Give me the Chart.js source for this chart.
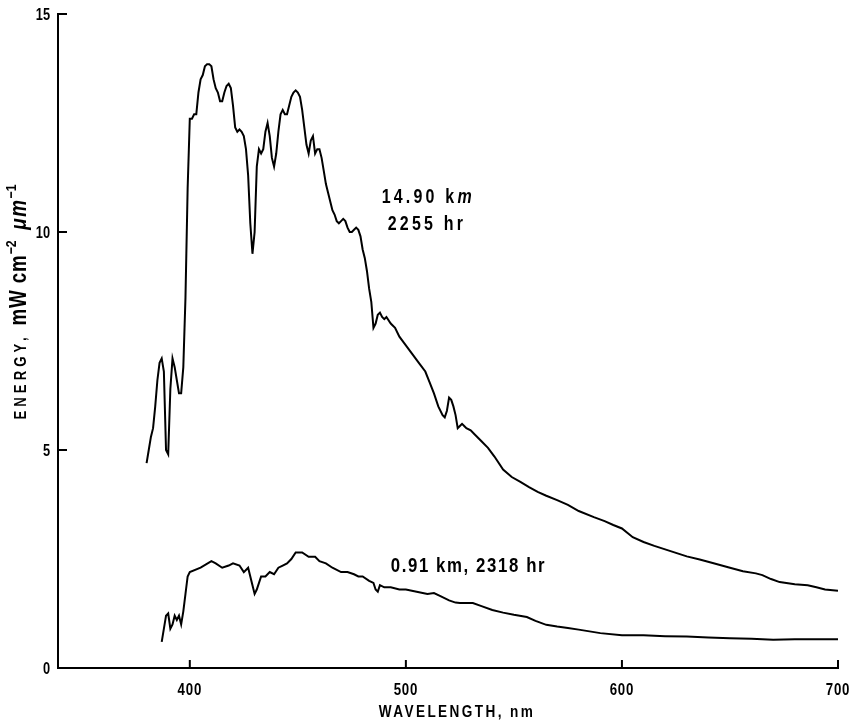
<!DOCTYPE html>
<html>
<head>
<meta charset="utf-8">
<script src="https://cdn.jsdelivr.net/npm/chart.js@4.4.1/dist/chart.umd.min.js"></script>
<style>
  html, body { margin: 0; padding: 0; background: #fff; }
  #wrap { width: 849px; height: 723px; }
</style>
</head>
<body>
<div id="wrap"><canvas id="spectrum" width="849" height="723"></canvas></div>
<script>
// spectrum at 14.90 km, 2255 hr
const upperNm = [380,381,382,383,384,385,386,387,388,389,390,391,392,393,394,395,396,397,398,399,
  400,401,402,403,404,405,406,407,408,409,410,411,412,413,414,415,416,417,418,419,
  420,421,422,423,424,425,426,427,428,429,430,431,432,433,434,435,436,437,438,439,
  440,441,442,443,444,445,446,447,448,449,450,451,452,453,454,455,456,457,458,459,
  460,461,462,463,464,465,466,467,468,469,470,471,472,473,474,475,476,477,478,479,
  480,481,482,483,484,485,486,487,488,489,490,491,493,495,497,500,503,506,509,511,
  513,515,517,518,519,520,521,522,523,524,525,526,527,528,530,532,535,538,541,545,
  549,553,557,561,565,570,575,580,587,592,596,600,605,610,615,620,625,630,636,642,
  650,656,662,665,669,673,680,686,690,694,700];
const upperEnergy = [4.7,5.0,5.3,5.5,6.0,6.6,7.0,7.1,6.8,5.0,4.9,6.4,7.1,6.9,6.6,6.3,6.3,6.9,8.5,11.0,
  12.6,12.6,12.7,12.7,13.2,13.5,13.6,13.8,13.85,13.85,13.8,13.5,13.3,13.2,13.0,13.0,13.2,13.35,13.4,13.3,
  12.9,12.4,12.3,12.35,12.3,12.2,11.9,11.3,10.2,9.5,10.0,11.5,11.9,11.8,11.9,12.3,12.5,12.2,11.7,11.5,
  11.8,12.3,12.7,12.8,12.7,12.7,12.9,13.1,13.2,13.25,13.2,13.1,12.8,12.4,12.0,11.8,12.1,12.2,11.8,11.9,
  11.9,11.7,11.4,11.1,10.9,10.7,10.5,10.4,10.25,10.2,10.25,10.3,10.25,10.1,10.0,10.0,10.05,10.1,10.05,9.9,
  9.6,9.4,9.1,8.7,8.4,7.8,7.9,8.1,8.15,8.05,8.0,8.05,7.9,7.8,7.6,7.4,7.2,7.0,6.8,6.55,
  6.3,6.0,5.8,5.75,5.9,6.2,6.15,6.0,5.8,5.5,5.55,5.6,5.55,5.5,5.45,5.35,5.2,5.05,4.85,4.55,
  4.38,4.27,4.15,4.04,3.95,3.85,3.74,3.6,3.46,3.37,3.28,3.2,3.0,2.89,2.8,2.72,2.64,2.56,2.49,2.41,
  2.3,2.22,2.17,2.13,2.04,1.97,1.92,1.9,1.85,1.8,1.77];

// spectrum at 0.91 km, 2318 hr
const lowerNm = [387,389,390,391,392,393,394,395,396,397,398,399,400,405,410,412,415,418,420,423,
  425,427,429,430,431,433,435,437,439,441,443,445,447,449,452,455,458,460,463,466,
  470,473,476,478,480,483,485,486,487,488,490,493,497,500,505,510,513,516,520,523,
  525,531,535,540,545,550,556,560,565,570,575,580,590,600,610,620,630,640,650,660,
  670,680,690,700];
const lowerEnergy = [0.6,1.2,1.25,0.9,1.0,1.2,1.1,1.2,1.0,1.3,1.7,2.1,2.2,2.3,2.45,2.4,2.3,2.35,2.4,2.35,
  2.2,2.3,1.9,1.7,1.8,2.1,2.1,2.2,2.15,2.3,2.35,2.4,2.5,2.65,2.65,2.55,2.55,2.45,2.4,2.3,
  2.2,2.2,2.15,2.1,2.1,2.0,1.95,1.8,1.75,1.9,1.85,1.85,1.8,1.8,1.75,1.7,1.72,1.65,1.55,1.5,
  1.49,1.49,1.42,1.33,1.27,1.22,1.17,1.08,0.99,0.95,0.92,0.88,0.8,0.75,0.75,0.73,0.72,0.7,0.68,0.67,
  0.65,0.66,0.66,0.66];

const xTicks = [400, 500, 600, 700];
const yTicks = [0, 5, 10, 15];

const FONT = "'Liberation Sans', Arial, sans-serif";

const toPoints = (xs, ys) => xs.map((x, i) => ({ x, y: ys[i] }));

// the original lettering is a narrow bold face, so squeeze Liberation Sans
function narrowText(ctx, str, x, y, font, align, squeeze, spacing) {
  ctx.save();
  ctx.font = font;
  ctx.letterSpacing = spacing || '0px';
  ctx.textAlign = align;
  ctx.translate(x, y);
  ctx.scale(squeeze, 1);
  ctx.fillText(str, 0, 0);
  ctx.restore();
}

// inward ticks, tick labels, axis titles and curve notes
const decor = {
  id: 'decor',
  afterDraw(chart) {
    const { ctx, scales: { x, y } } = chart;
    ctx.save();
    ctx.strokeStyle = '#000';
    ctx.fillStyle = '#000';
    ctx.lineWidth = 2;
    xTicks.forEach(v => {
      const px = x.getPixelForValue(v);
      ctx.beginPath(); ctx.moveTo(px, y.bottom); ctx.lineTo(px, y.bottom - 8); ctx.stroke();
      narrowText(ctx, String(v), px, y.bottom + 27, `bold 17px ${FONT}`, 'center', 0.78, '1px');
    });
    yTicks.forEach(v => {
      const py = y.getPixelForValue(v);
      if (v > 0) { ctx.beginPath(); ctx.moveTo(x.left, py); ctx.lineTo(x.left + 9, py); ctx.stroke(); }
      narrowText(ctx, String(v), x.left - 8, py + 6, `bold 16px ${FONT}`, 'right', 0.8, '0px');
    });

    // x title
    narrowText(ctx, 'WAVELENGTH, nm', 457, 717, `bold 17px ${FONT}`, 'center', 0.8, '3px');

    // y title, rotated, with superscripts
    ctx.save();
    ctx.translate(26, 302);
    ctx.rotate(-Math.PI / 2);
    const sq = 0.82;
    const parts = [
      ['ENERGY, ', `bold 16px ${FONT}`, 0, '5px'],
      ['mW cm', `bold 23px ${FONT}`, 0, '1px'],
      ['\u22122', `bold 15px ${FONT}`, -10, '0px'],
      ['  ', `bold 23px ${FONT}`, 0, '0px'],
      ['\u03bcm', `italic bold 23px ${FONT}`, 0, '2px'],
      ['\u22121', `bold 15px ${FONT}`, -10, '0px']
    ];
    let total = 0;
    parts.forEach(p => { ctx.font = p[1]; ctx.letterSpacing = p[3]; total += ctx.measureText(p[0]).width * sq; });
    let cx = -total / 2;
    parts.forEach(p => {
      narrowText(ctx, p[0], cx, p[2], p[1], 'left', sq, p[3]);
      ctx.font = p[1]; ctx.letterSpacing = p[3];
      cx += ctx.measureText(p[0]).width * sq;
    });
    ctx.restore();

    // curve notes
    const f = `bold 20px ${FONT}`;
    narrowText(ctx, '14.90 k', x.getPixelForValue(488.8), y.getPixelForValue(10.67), f, 'left', 0.8, '4px');
    ctx.font = f; ctx.letterSpacing = '4px';
    const kw = ctx.measureText('14.90 k').width * 0.8;
    narrowText(ctx, 'm', x.getPixelForValue(488.8) + kw, y.getPixelForValue(10.67), `italic ${f}`, 'left', 0.8, '4px');
    narrowText(ctx, '2255 hr', x.getPixelForValue(491.6), y.getPixelForValue(10.05), f, 'left', 0.8, '4px');
    narrowText(ctx, '0.91 km, 2318 hr', x.getPixelForValue(493), y.getPixelForValue(2.2), `bold 21px ${FONT}`, 'left', 0.8, '2px');
    ctx.restore();
  }
};

new Chart(document.getElementById('spectrum'), {
  type: 'line',
  data: {
    datasets: [
      { data: toPoints(upperNm, upperEnergy), borderColor: '#000', borderWidth: 2, pointRadius: 0, tension: 0 },
      { data: toPoints(lowerNm, lowerEnergy), borderColor: '#000', borderWidth: 2, pointRadius: 0, tension: 0 }
    ]
  },
  options: {
    responsive: false,
    animation: false,
    devicePixelRatio: 1,
    layout: { padding: { top: 14, right: 11, left: 0, bottom: 0 } },
    plugins: { legend: { display: false }, tooltip: { enabled: false } },
    scales: {
      x: {
        type: 'linear',
        min: 339, max: 700,
        afterBuildTicks: s => { s.ticks = xTicks.map(v => ({ value: v })); },
        afterFit: s => { s.height = 55; },
        grid: { display: false },
        border: { display: true, color: '#000', width: 2 },
        ticks: { display: false }
      },
      y: {
        min: 0, max: 15,
        afterBuildTicks: s => { s.ticks = yTicks.map(v => ({ value: v })); },
        afterFit: s => { s.width = 58; },
        grid: { display: false },
        border: { display: true, color: '#000', width: 2 },
        ticks: { display: false }
      }
    }
  },
  plugins: [decor]
});
</script>
</body>
</html>
